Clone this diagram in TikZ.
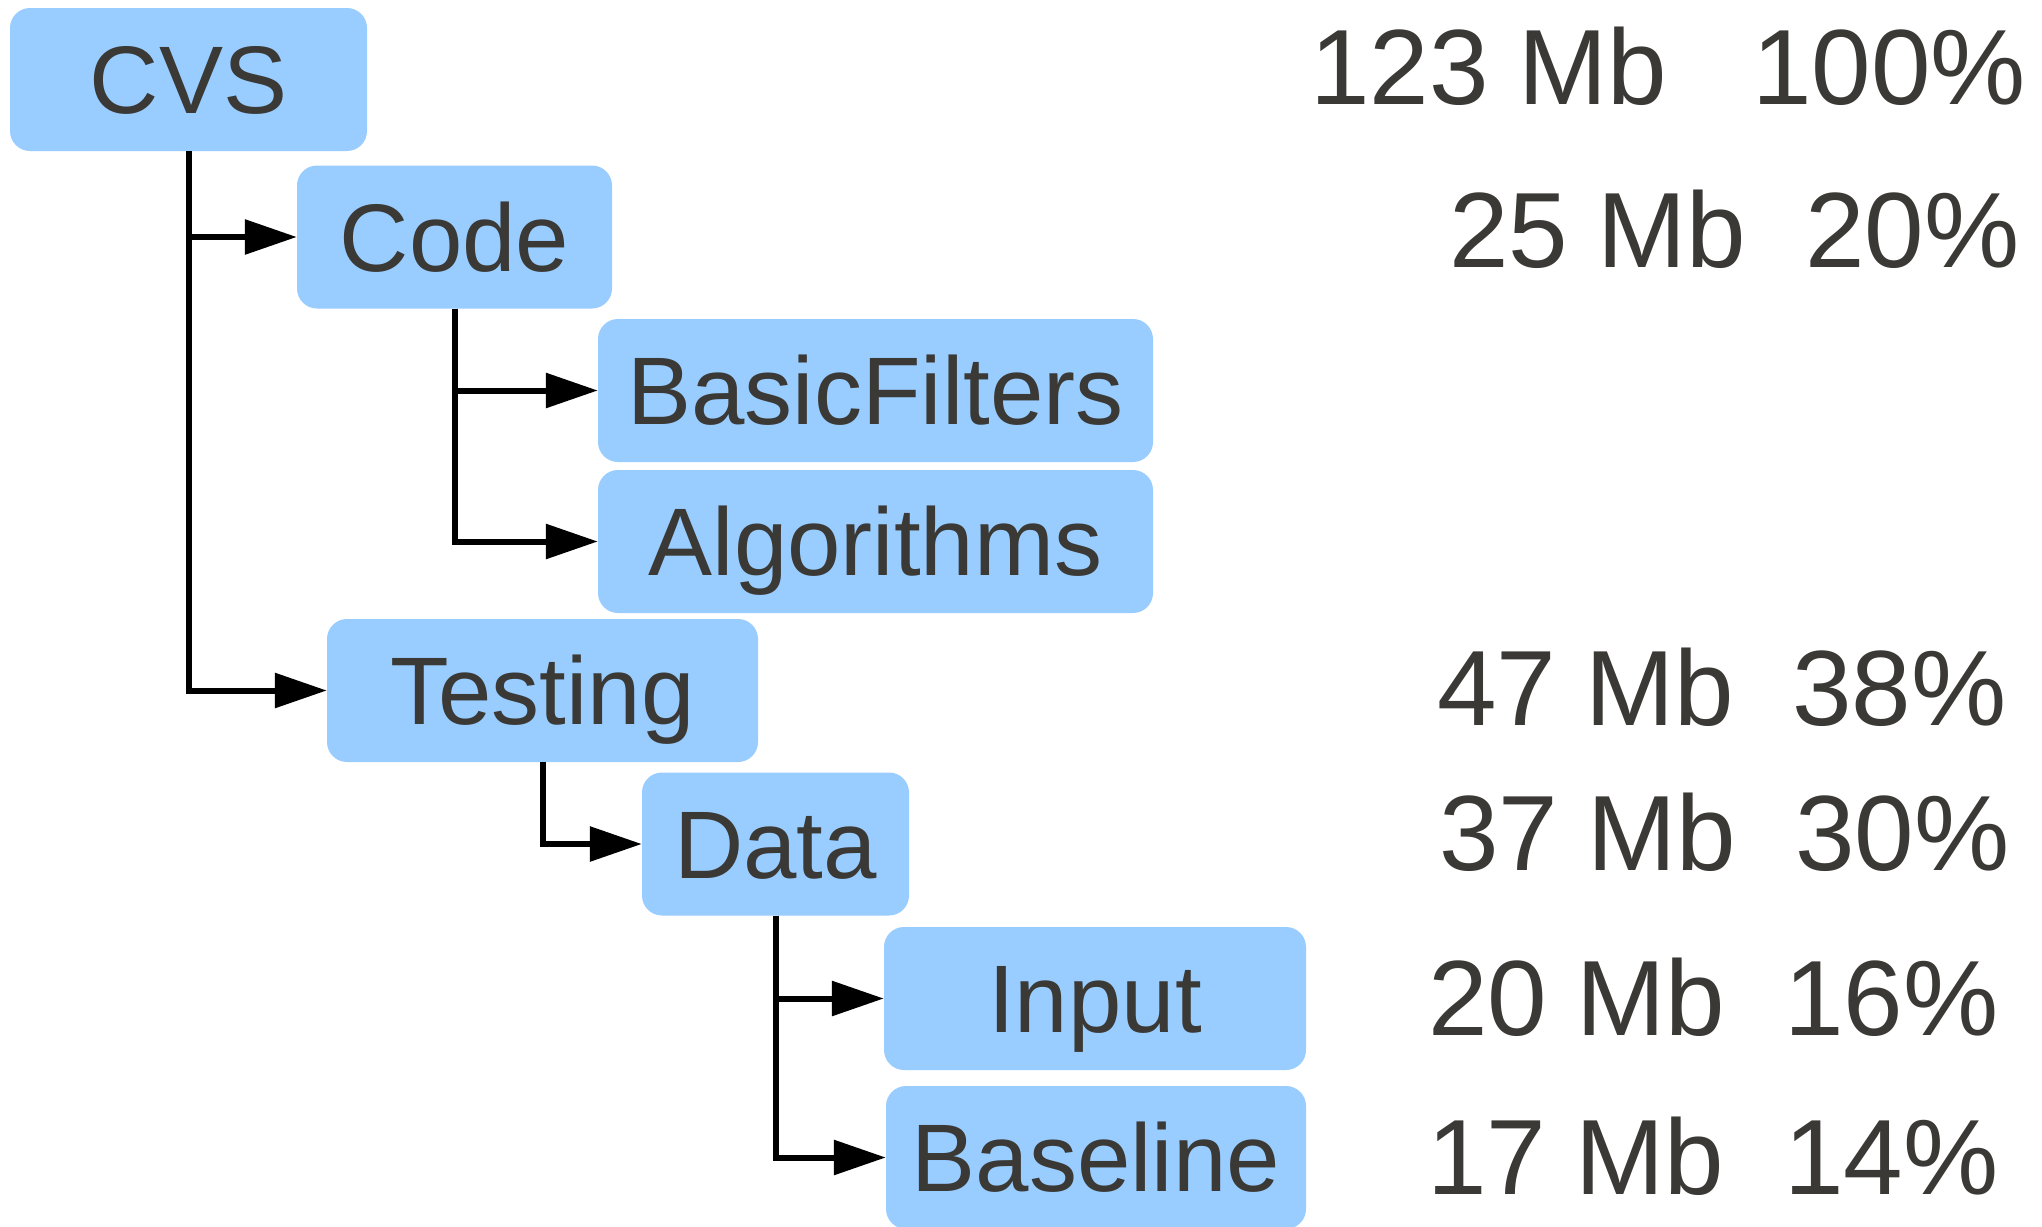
\documentclass[tikz,border=0pt]{standalone}
\usepackage{fontspec}
\setmainfont{Liberation Sans}
\usetikzlibrary{arrows.meta}
\definecolor{boxblue}{HTML}{99CCFF}
\definecolor{txt}{HTML}{3A3935}
\begin{document}
\begin{tikzpicture}[x=1pt,y=-1pt,
  box/.style={fill=boxblue, rounded corners=20pt, minimum height=143pt, inner sep=0pt,
    text height=68.7pt, text depth=0pt, font=\fontsize{96}{100}\selectfont, text=txt},
  lbl/.style={inner sep=0pt, anchor=base west, font=\fontsize{107}{110}\selectfont, text=txt},
  conn/.style={line width=6pt, draw=black, -{Triangle[length=52pt,width=34pt]}}]
\useasboundingbox[fill=white] (0,0) rectangle (2042,1226);

\node[box, minimum width=357pt] (cvs) at (188.5,79.5) {CVS};
\node[box, minimum width=315pt] (code) at (454.5,237) {Code};
\node[box, minimum width=555pt] (basic) at (875.5,390.5) {BasicFilters};
\node[box, minimum width=555pt] (algo) at (875.5,541.5) {Algorithms};
\node[box, minimum width=431pt] (testing) at (542.5,690.5) {Testing};
\node[box, minimum width=267pt] (data) at (775.5,844) {Data};
\node[box, minimum width=422pt] (input) at (1095,998.5) {Input};
\node[box, minimum width=420pt] (baseline) at (1096,1157.5) {Baseline};

\draw[conn] (cvs.south) |- (code.west);
\draw[conn] (cvs.south) |- (testing.west);
\draw[conn] (code.south) |- (basic.west);
\draw[conn] (code.south) |- (algo.west);
\draw[conn] (testing.south) |- (data.west);
\draw[conn] (data.south) |- (input.west);
\draw[conn] (data.south) |- (baseline.west);

\node[lbl] (s1) at (1310,104) {123 Mb};
\node[lbl] (p1) at (1752,104) {100\%};
\node[lbl] (s2) at (1449,267) {25 Mb};
\node[lbl] (p2) at (1805,267) {20\%};
\node[lbl] (s3) at (1437,725) {47 Mb};
\node[lbl] (p3) at (1792,725) {38\%};
\node[lbl] (s4) at (1439,870) {37 Mb};
\node[lbl] (p4) at (1795,870) {30\%};
\node[lbl] (s5) at (1428,1035) {20 Mb};
\node[lbl] (p5) at (1784,1035) {16\%};
\node[lbl] (s6) at (1427,1194) {17 Mb};
\node[lbl] (p6) at (1784,1194) {14\%};
\end{tikzpicture}
\end{document}
